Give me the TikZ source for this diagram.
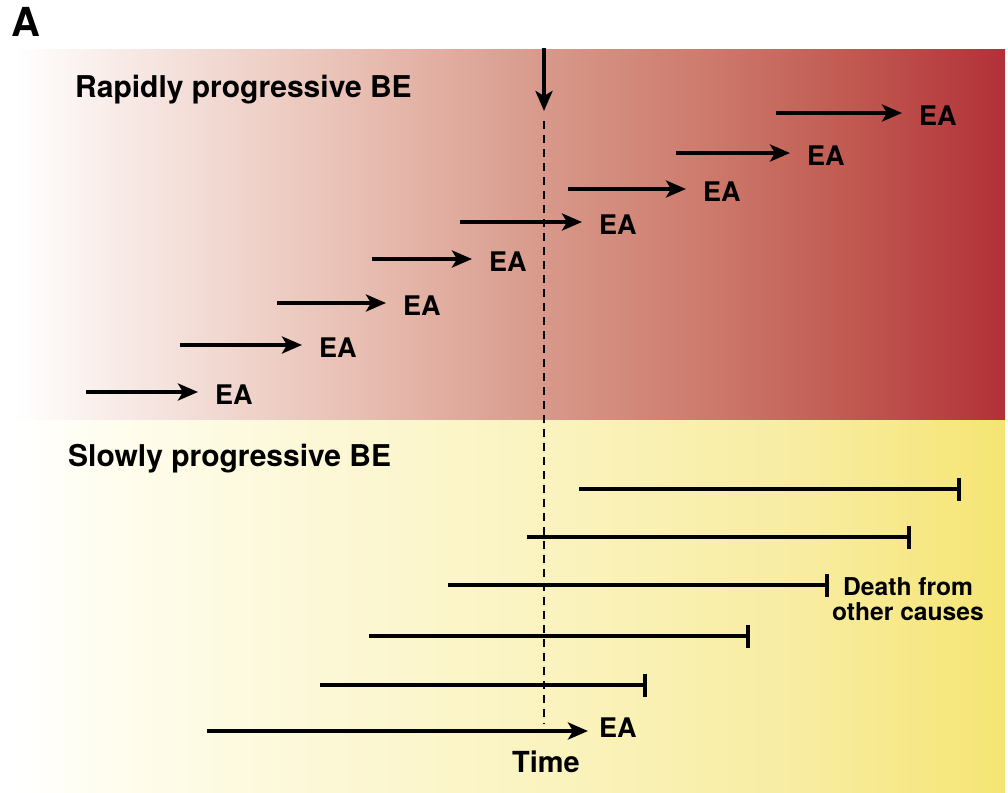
\documentclass[tikz,border=0pt]{standalone}
\usepackage{fontspec}
\setmainfont{TeX Gyre Heros}
\usetikzlibrary{arrows.meta}
\definecolor{rA}{RGB}{248,236,232}
\definecolor{rB}{RGB}{232,190,178}
\definecolor{rC}{RGB}{216,154,139}
\definecolor{rD}{RGB}{205,122,108}
\definecolor{rE}{RGB}{192,88,80}
\definecolor{rF}{RGB}{178,48,56}
\definecolor{yA}{RGB}{255,253,238}
\definecolor{yB}{RGB}{252,248,215}
\definecolor{yC}{RGB}{250,243,190}
\definecolor{yD}{RGB}{248,236,160}
\definecolor{yE}{RGB}{245,229,115}
\pgfdeclarehorizontalshading{redgrad}{100bp}{color(0bp)=(white); color(25bp)=(white); color(30bp)=(rA); color(42.5bp)=(rB); color(51.5bp)=(rC); color(60bp)=(rD); color(67.5bp)=(rE); color(75bp)=(rF); color(100bp)=(rF)}
\pgfdeclarehorizontalshading{yellowgrad}{100bp}{color(0bp)=(white); color(25bp)=(white); color(30bp)=(yA); color(40bp)=(yB); color(52.5bp)=(yC); color(65bp)=(yD); color(75bp)=(yE); color(100bp)=(yE)}
\tikzset{
  arr/.style={line width=4.4pt, -{Stealth[length=20pt,width=17pt,inset=5pt]}},
  bar/.style={line width=4.4pt, -{Bar[width=23pt]}},
  ea/.style={font=\bfseries\fontsize{27}{30}\selectfont, inner sep=0pt, anchor=west},
  title/.style={font=\bfseries\fontsize{30}{32}\selectfont, inner sep=0pt, anchor=base west},
  note/.style={font=\bfseries\fontsize{24.6}{25}\selectfont, inner sep=0pt, align=left},
}
\begin{document}
\begin{tikzpicture}[x=1pt,y=-1pt]
\useasboundingbox (0,0) rectangle (1008,792);
\shade[shading=redgrad] (14,50) rectangle (1005,420);
\shade[shading=yellowgrad] (14,420) rectangle (1005,792);
\node[font=\bfseries\fontsize{40}{42}\selectfont, inner sep=0pt, anchor=base west] (lblA) at (11,37) {A};
\node[title] (rapid) at (75,97) {Rapidly progressive BE};
\node[title] (slow) at (68,466) {Slowly progressive BE};
% time marker
\coordinate (tTop) at (544,48);
\coordinate (tTip) at (544,111);
\coordinate (dTop) at (544,121);
\coordinate (dBot) at (544,724);
\draw[line width=4.4pt, -{Stealth[length=20pt,width=17pt,inset=5pt]}] (tTop) -- (tTip);
\draw[line width=2.4pt, dash pattern=on 8pt off 6pt] (dTop) -- (dBot);
% rapid arrows
\foreach \i/\xa/\xb/\yy in {1/86/198/392, 2/180/302/345, 3/277/386/303, 4/372/472/259, 5/460/582/222, 6/568/686/189, 7/676/790/153, 8/776/902/113}{
  \coordinate (rs\i) at (\xa,\yy);
  \coordinate (re\i) at (\xb,\yy);
  \draw[arr] (rs\i) -- (re\i);
  \node[ea] (rea\i) at (\xb+17,\yy+3) {EA};
}
% slow bars
\foreach \i/\xa/\xb/\yy in {1/579/961/489, 2/527/911/537, 3/448/829/585, 4/369/750/636, 5/320/647/685}{
  \coordinate (ss\i) at (\xa,\yy);
  \coordinate (se\i) at (\xb,\yy);
  \draw[bar] (ss\i) -- (se\i);
}
\coordinate (ss6) at (207,731);
\coordinate (se6) at (588,731);
\draw[arr] (ss6) -- (se6);
\node[ea] (sea6) at (599,728) {EA};
\node[note, anchor=north west] (death) at (832,577) {\hspace*{11pt}Death from\\other causes};
\node[font=\bfseries\fontsize{29}{30}\selectfont, inner sep=0pt, anchor=base] (time) at (546,772) {Time};
\end{tikzpicture}
\end{document}
